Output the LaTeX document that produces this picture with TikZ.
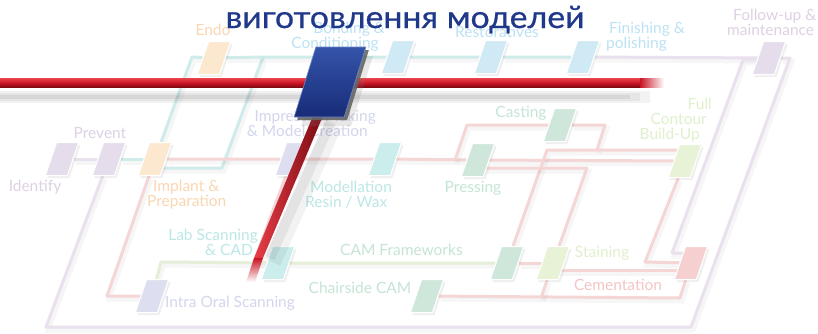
\documentclass[tikz,border=0pt]{standalone}
\usepackage{fontspec}
\setmainfont{Lato}
\newfontfamily\titlefont{Lato}[FakeStretch=1.09, FakeBold=0.6]
\usetikzlibrary{positioning,shadows,backgrounds,calc}
\pgfdeclarelayer{route}
\pgfdeclarelayer{front}
\pgfsetlayers{background,main,route,front}
% station fills
\definecolor{lilac}{RGB}{229,221,235}
\definecolor{peach}{RGB}{252,231,207}
\definecolor{ltblue}{RGB}{207,233,245}
\definecolor{lavender}{RGB}{221,223,240}
\definecolor{teal}{RGB}{203,237,236}
\definecolor{sage}{RGB}{207,231,219}
\definecolor{ltgreen}{RGB}{231,242,214}
\definecolor{rose}{RGB}{246,207,209}
% line colours
\definecolor{lilacln}{RGB}{233,225,237}
\definecolor{tealln}{RGB}{207,236,234}
\definecolor{pinkln}{RGB}{245,214,214}
\definecolor{greenln}{RGB}{229,239,216}
% label colours
\definecolor{lilactx}{RGB}{222,209,227}
\definecolor{peachtx}{RGB}{250,214,178}
\definecolor{bluetx}{RGB}{189,226,243}
\definecolor{lavtx}{RGB}{211,214,237}
\definecolor{tealtx}{RGB}{188,231,230}
\definecolor{sagetx}{RGB}{198,228,213}
\definecolor{greentx}{RGB}{224,240,204}
\definecolor{rosetx}{RGB}{245,196,198}
% highlight
\definecolor{redhi}{RGB}{232,62,72}
\definecolor{redmid}{RGB}{200,20,36}
\definecolor{reddk}{RGB}{120,8,16}
\definecolor{hubtop}{RGB}{52,84,170}
\definecolor{hubbot}{RGB}{24,44,120}
\definecolor{titleblue}{RGB}{32,56,138}

\begin{document}
\begin{tikzpicture}[x=1pt, y=-1pt,
    station/.style={draw=white, line width=1pt, minimum width=22pt, minimum height=33pt,
                    inner sep=0pt, xslant=0.34,
                    drop shadow={opacity=0.12, shadow xshift=2pt, shadow yshift=-2.5pt}},
    ln/.style={line width=3pt, line join=round,
               preaction={draw=black, opacity=0.035, line width=5pt,
                          transform canvas={shift={(2pt,-3pt)}}}},
    lbl/.style={font=\fontsize{15.5}{15}\selectfont, inner sep=0pt},
    hub/.style={minimum width=50pt, minimum height=70pt, inner sep=0pt, xslant=0.31,
                top color=hubtop, bottom color=hubbot, draw=hubtop!70!white, line width=0.6pt,
                drop shadow={opacity=0.18, shadow xshift=7pt, shadow yshift=-9pt},
                drop shadow={fill=black!60, opacity=0.9, shadow xshift=3pt, shadow yshift=-3pt}}]
  \useasboundingbox (0,0) rectangle (818,333);

  % stations
  \node[station, fill=lilac] (identify) at (62,159) {};
  \node[station, fill=lilac] (prevent) at (109,159) {};
  \node[station, fill=peach] (implant) at (155,159) {};
  \node[station, fill=peach] (endo) at (214,58) {};
  \node[station, fill=ltblue] (bonding) at (398,57) {};
  \node[station, fill=ltblue] (restor) at (491,57) {};
  \node[station, fill=ltblue] (finishing) at (583,57) {};
  \node[station, fill=lilac] (followup) at (769,58) {};
  \node[station, fill=lavender] (impression) at (292,159) {};
  \node[station, fill=teal] (modell) at (385,159) {};
  \node[station, fill=sage] (pressing) at (478,160) {};
  \node[station, fill=sage] (casting) at (560,125) {};
  \node[station, fill=ltgreen] (fullc) at (685,161) {};
  \node[station, fill=teal] (labscan) at (278,263) {};
  \node[station, fill=lavender] (intraoral) at (152,296) {};
  \node[station, fill=sage] (chairside) at (427,296) {};
  \node[station, fill=sage] (camfw) at (507,263) {};
  \node[station, fill=ltgreen] (staining) at (553,263) {};
  \node[station, fill=rose] (cementation) at (691,263) {};

  % corners of the lines
  \coordinate (cTa) at (192,57);
  \coordinate (cTb) at (263,57);
  \coordinate (cTc) at (222,168);
  \coordinate (cPa) at (107,296);
  \coordinate (cLa) at (46,327);
  \coordinate (cLb) at (691,327);
  \coordinate (cLc) at (790,58);
  \coordinate (cLd) at (743,60);
  \coordinate (cLe) at (672,253);
  \coordinate (cCa) at (455,160);
  \coordinate (cCb) at (467,125);
  \coordinate (cCc) at (605,125);
  \coordinate (cCd) at (597,150);
  \coordinate (cFa) at (547,150);
  \coordinate (cFb) at (587,168);
  \coordinate (cFc) at (645,262);
  \coordinate (cBa) at (680,298);
  \coordinate (cBb) at (541,298);
  \coordinate (cGa) at (161,262);
  \coordinate (cIa) at (254,262);

  \begin{scope}[on background layer]
    \fill[white] (0,0) rectangle (818,333);
    % lilac
    \draw[ln, lilacln] (identify) -- (prevent);
    \draw[ln, lilacln] (prevent) -- (cLa) -- (cLb) -- (cLc) -- (followup);
    \draw[ln, lilacln] (finishing) -- (followup);
    \draw[ln, lilacln] (followup) -- (cLd) -- (cLe) -- (cLe -| cementation);
    % teal
    \draw[ln, tealln] (prevent) -- (implant);
    \draw[ln, tealln] (cTc -| implant) -- (cTc) -- (cTb) -- (bonding) -- (restor) -- (finishing);
    \draw[ln, tealln] (implant) -- (cTa) -- (endo) -- (cTb);
    % pink
    \draw[ln, pinkln] (implant) -- (impression) -- (modell) -- (pressing) -- (fullc);
    \draw[ln, pinkln] (implant) -- (cPa) -- (intraoral);
    \draw[ln, pinkln] (cCa) -- (cCb) -- (casting) -- (cCc) -- (cCd);
    \draw[ln, pinkln] (camfw) -- (cFa) -- (cFa -| fullc);
    \draw[ln, pinkln] (cFb -| pressing) -- (cFb) -- (staining);
    \draw[ln, pinkln] (impression) -- (cIa) -- (labscan);
    \draw[ln, pinkln] (chairside) -- (cBa) -- (cementation);
    \draw[ln, pinkln] (staining) -- (cBb);
    \draw[ln, pinkln] (camfw) -- (staining);
    \draw[ln, pinkln] ([yshift=-7pt]staining.center) -- ([yshift=-7pt]cementation.center);
    \draw[ln, pinkln] (fullc) -- (cFc) -- (cementation);
    % green
    \draw[ln, greenln] (intraoral) -- (cGa) -- (labscan) -- (camfw);
  \end{scope}

  % labels
  \node[lbl, text=lilactx] (tIdentify) at (35,187) {Identify};
  \node[lbl, text=lilactx] (tPrevent) at (100,133) {Prevent};
  \node[lbl, text=peachtx, anchor=west, align=left] (tImplant) at (147,195)
       {\hspace*{6pt}Implant \&\\Preparation};
  \node[lbl, text=peachtx] (tEndo) at (213,30) {Endo};
  \node[lbl, text=bluetx, anchor=east, align=right] (tBonding) at (385,37)
       {Bonding \&\\\mbox{Conditioning\hspace{6pt}}};
  \node[lbl, text=bluetx] (tRestor) at (497,32) {Restoratives};
  \node[lbl, text=bluetx, anchor=west, align=left] (tFinishing) at (606,37)
       {\hspace*{3pt}Finishing \&\\polishing};
  \node[lbl, text=lilactx, anchor=west, align=left] (tFollowup) at (727,22)
       {\hspace*{6pt}Follow-up \&\\maintenance};
  \node[lbl, text=lavtx, anchor=east, align=right] (tImpression) at (376,123)
       {Impression Taking\\\mbox{\& Model Creation\hspace{8pt}}};
  \node[lbl, text=tealtx, anchor=west, align=left] (tModell) at (305,195)
       {\hspace*{5pt}Modellation\\Resin / Wax};
  \node[lbl, text=sagetx] (tPressing) at (473,188) {Pressing};
  \node[lbl, text=sagetx] (tCasting) at (521,113) {Casting};
  \node[lbl, text=greentx, anchor=east, align=right] (tFullc) at (712,120)
       {Full\\\mbox{Contour\hspace{5pt}}\\\mbox{Build-Up\hspace{12pt}}};
  \node[lbl, text=tealtx, anchor=east, align=right] (tLabscan) at (258,242)
       {Lab Scanning\\\mbox{\& CAD\hspace{5pt}}};
  \node[lbl, text=sagetx, anchor=west] (tCamfw) at (340,250) {CAM Frameworks};
  \node[lbl, text=sagetx] (tChairside) at (360,288) {Chairside CAM};
  \node[lbl, text=lavtx] (tIntraoral) at (230,303) {Intra Oral Scanning};
  \node[lbl, text=greentx] (tStaining) at (602,253) {Staining};
  \node[lbl, text=rosetx] (tCementation) at (618,285) {Cementation};

  % highlighted route
  \begin{pgfonlayer}{front}
    \node[hub] (hub) at (330,82) {};
  \end{pgfonlayer}
  \coordinate (redW) at (0,83);
  \coordinate (redE) at (640,83);
  \coordinate (redS) at (258,258);
  \begin{pgfonlayer}{route}
    \fill[black, opacity=0.05] (0,91) rectangle (650,103);
    \fill[black, opacity=0.05] (0,93) rectangle (640,101);
    \fill[black, opacity=0.06] (0,95) rectangle (630,99);
    \shade[top color=redhi, bottom color=reddk, middle color=redmid]
          ($(redW)+(0,-4.5)$) rectangle ($(redE)+(0,4.5)$);
    \shade[left color=redmid, right color=white]
          ($(redE)+(0,-4.5)$) rectangle ($(redE)+(24,4.5)$);
    \draw[black, opacity=0.06, line width=10pt] ($(hub.south)+(12,4)$) -- ($(redS)+(12,0)$);
    \draw[black, opacity=0.05, line width=18pt] ($(hub.south)+(14,8)$) -- ($(redS)+(14,4)$);
    \shade[left color=redhi, right color=reddk]
          ($(hub.south)+(-5,-4)$) -- ($(hub.south)+(5,-4)$)
          -- ($(redS)+(5,0)$) -- ($(redS)+(-4,0)$) -- cycle;
    \shade[top color=redmid, bottom color=white]
          ($(redS)+(-4,0)$) -- ($(redS)+(5,0)$) -- ($(redS)+(-3,24)$) -- ($(redS)+(-12,24)$) -- cycle;
  \end{pgfonlayer}

  % title
  \begin{pgfonlayer}{front}
    \node[font=\titlefont\fontsize{31}{33}\selectfont, text=titleblue, anchor=base] (title) at (405,28)
         {виготовлення моделей};
  \end{pgfonlayer}
\end{tikzpicture}
\end{document}
